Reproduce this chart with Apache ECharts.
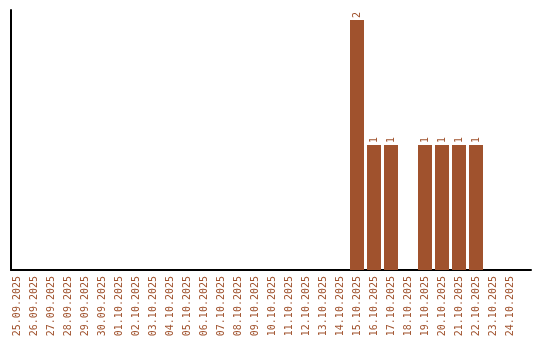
<!DOCTYPE html>
<html>
<head>
<meta charset="utf-8">
<script src="https://cdn.jsdelivr.net/npm/echarts@6/dist/echarts.min.js"></script>
<style>html,body{margin:0;padding:0;background:#fff}#c{width:540px;height:340px}</style>
</head>
<body>
<div id="c"></div>
<script>
const categories = ['25.09.2025','26.09.2025','27.09.2025','28.09.2025','29.09.2025','30.09.2025','01.10.2025','02.10.2025','03.10.2025','04.10.2025','05.10.2025','06.10.2025','07.10.2025','08.10.2025','09.10.2025','10.10.2025','11.10.2025','12.10.2025','13.10.2025','14.10.2025','15.10.2025','16.10.2025','17.10.2025','18.10.2025','19.10.2025','20.10.2025','21.10.2025','22.10.2025','23.10.2025','24.10.2025'];
const counts = [0,0,0,0,0,0,0,0,0,0,0,0,0,0,0,0,0,0,0,0,2,1,1,0,1,1,1,1,0,0];

const brown = '#a0522d';
const font = 'DejaVu Sans Mono';
const chart = echarts.init(document.getElementById('c'), null, {renderer: 'canvas'});
chart.setOption({
  animation: false,
  grid: [
    {left: 11, width: 520, top: 10, height: 260, containLabel: false},
    {left: 8.5, width: 510, top: 10, height: 260, containLabel: false}
  ],
  xAxis: [
    {gridIndex: 0, type: 'value', min: 0, max: 1, axisLine: {show: true, onZero: false, lineStyle: {color: '#000', width: 2}}, axisTick: {show: false}, axisLabel: {show: false}, splitLine: {show: false}},
    {gridIndex: 1, type: 'category', data: categories, axisLine: {show: false}, axisTick: {show: false}, splitLine: {show: false},
      axisLabel: {interval: 0, rotate: 90, margin: 6, color: brown, fontFamily: font, fontSize: 10}}
  ],
  yAxis: [
    {gridIndex: 0, type: 'value', min: 0, max: 1, axisLine: {show: true, onZero: false, lineStyle: {color: '#000', width: 2}}, axisTick: {show: false}, axisLabel: {show: false}, splitLine: {show: false}},
    {gridIndex: 1, type: 'value', min: 0, max: 2.08, axisLine: {show: false}, axisTick: {show: false}, axisLabel: {show: false}, splitLine: {show: false}}
  ],
  series: [
    {type: 'line', xAxisIndex: 0, yAxisIndex: 0, data: [], silent: true},
    {type: 'bar', xAxisIndex: 1, yAxisIndex: 1, data: counts, barWidth: 14,
      itemStyle: {color: brown},
      label: {show: true, position: 'top', rotate: 90, align: 'left', verticalAlign: 'middle', distance: 2,
        color: brown, fontFamily: font, fontSize: 10,
        formatter: p => p.value ? String(p.value) : ''}}
  ]
});
</script>
</body>
</html>
